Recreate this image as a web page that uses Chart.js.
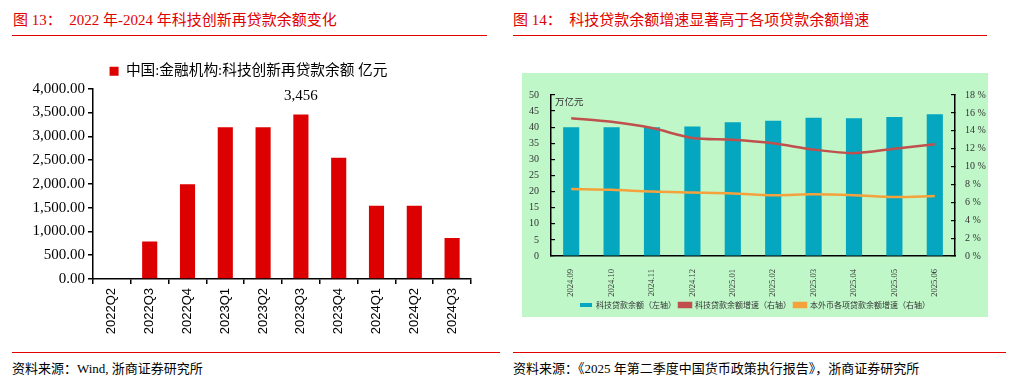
<!DOCTYPE html>
<html>
<head>
<meta charset="utf-8">
<script src="https://cdn.jsdelivr.net/npm/chart.js@4.4.1/dist/chart.umd.min.js"></script>
<style>
  body { margin:0; width:1018px; height:390px; background:#fff; position:relative; overflow:hidden;
         font-family:"Liberation Serif","Noto Sans CJK SC",serif; }
  .title { position:absolute; top:8px; color:#e00000; font-size:15px; white-space:pre; }
  .rule { position:absolute; height:1px; background:#e00000; }
  .src { position:absolute; top:358px; font-size:13px; color:#000; white-space:pre; }
  #box1 { position:absolute; left:0; top:40px; width:495px; height:305px; }
  #box2 { position:absolute; left:522px; top:73px; width:466px; height:244px; background:#bff7c8; }
</style>
</head>
<body>
<div class="title" style="left:13px">图 13：  2022 年-2024 年科技创新再贷款余额变化</div>
<div class="rule" style="left:12px;width:475px;top:35px"></div>
<div class="title" style="left:513px">图 14：  科技贷款余额增速显著高于各项贷款余额增速</div>
<div class="rule" style="left:513px;width:474px;top:35px"></div>

<div id="box1"><canvas id="js--chart1"></canvas></div>
<div id="box2"><canvas id="js--chart2"></canvas></div>

<div class="rule" style="left:12px;width:488px;top:352px"></div>
<div class="rule" style="left:513px;width:493px;top:352px"></div>
<div class="src" style="left:12px">资料来源：Wind, 浙商证券研究所</div>
<div class="src" style="left:513px">资料来源：《2025 年第二季度中国货币政策执行报告》，浙商证券研究所</div>

<script>
// chart 13: 科技创新再贷款余额 (亿元)
const quarters = ["2022Q2", "2022Q3", "2022Q4", "2023Q1", "2023Q2", "2023Q3", "2023Q4", "2024Q1", "2024Q2", "2024Q3"];
const relendBalance = [null, 790, 1990, 3190, 3190, 3456, 2550, 1540, 1540, 860];
const relendTicks = [0, 500, 1000, 1500, 2000, 2500, 3000, 3500, 4000];

// chart 14: 科技贷款
const months = ["2024.09", "2024.10", "2024.11", "2024.12", "2025.01", "2025.02", "2025.03", "2025.04", "2025.05", "2025.06"];
const techLoan = [40.0, 40.0, 40.0, 40.2, 41.5, 42.0, 42.9, 42.8, 43.2, 44.0];
const techGrowth = [15.4, 15.0, 14.3, 13.2, 13.0, 12.6, 11.9, 11.5, 12.0, 12.5];
const allGrowth = [7.5, 7.4, 7.2, 7.1, 7.0, 6.8, 6.9, 6.8, 6.6, 6.7];
const leftTicks = [0, 5, 10, 15, 20, 25, 30, 35, 40, 45, 50];
const rightTicks = [0, 2, 4, 6, 8, 10, 12, 14, 16, 18];

const serif = '"Liberation Serif", "Noto Sans CJK SC", serif';

// label above the highest bar
const peakLabel = {
  id: "peakLabel",
  afterDatasetsDraw(chart) {
    const meta = chart.getDatasetMeta(0);
    let idx = 0;
    relendBalance.forEach((v, i) => { if (v !== null && v > relendBalance[idx]) idx = i; });
    const bar = meta.data[idx];
    const ctx = chart.ctx;
    ctx.save();
    ctx.font = "15px " + serif;
    ctx.fillStyle = "#000";
    ctx.textAlign = "center";
    ctx.textBaseline = "bottom";
    ctx.fillText(relendBalance[idx].toLocaleString("en-US"), bar.x, bar.y - 11);
    ctx.restore();
  }
};

const chart1 = new Chart(document.getElementById("js--chart1"), {
  type: "bar",
  data: {
    labels: quarters,
    datasets: [{
      label: "中国:金融机构:科技创新再贷款余额 亿元",
      data: relendBalance,
      backgroundColor: "#dc0000",
      barPercentage: 0.8,
      categoryPercentage: 0.5
    }]
  },
  options: {
    responsive: true,
    maintainAspectRatio: false,
    animation: false,
    layout: { padding: { top: 12, right: 24, left: 26, bottom: 0 } },
    plugins: {
      legend: {
        position: "top",
        labels: { boxWidth: 9, boxHeight: 9, color: "#000", padding: 12, font: { family: serif, size: 14.7 } }
      },
      tooltip: { enabled: false }
    },
    scales: {
      x: {
        grid: { drawOnChartArea: false, tickLength: 5, color: "#000", lineWidth: 1.5 },
        border: { color: "#000", width: 1.5 },
        ticks: { minRotation: 90, maxRotation: 90, color: "#000", padding: 4,
                 font: { family: '"Liberation Sans", Arial, sans-serif', size: 13 } },
        afterFit(scale) { scale.height = 66; }
      },
      y: {
        min: relendTicks[0],
        max: relendTicks[relendTicks.length - 1],
        afterBuildTicks(scale) { scale.ticks = relendTicks.map(v => ({ value: v })); },
        grid: { drawOnChartArea: false, tickLength: 5, color: "#000", lineWidth: 1.5 },
        border: { color: "#000", width: 1.5 },
        ticks: {
          color: "#000", padding: 3, font: { family: serif, size: 15 },
          callback: v => v.toLocaleString("en-US", { minimumFractionDigits: 2, maximumFractionDigits: 2 })
        },
        afterFit(scale) { scale.width = 67; }
      }
    }
  },
  plugins: [peakLabel]
});

// unit text in the top-left corner of the plot
const unitText = {
  id: "unitText",
  afterDraw(chart) {
    const ctx = chart.ctx;
    ctx.save();
    ctx.font = '9.5px "Noto Sans CJK SC", sans-serif';
    ctx.fillStyle = "#333";
    ctx.textBaseline = "top";
    ctx.fillText("万亿元", chart.chartArea.left + 4, chart.chartArea.top + 2);
    ctx.restore();
  }
};

const chart2 = new Chart(document.getElementById("js--chart2"), {
  type: "bar",
  data: {
    labels: months,
    datasets: [
      {
        type: "bar",
        label: "科技贷款余额（左轴）",
        data: techLoan,
        backgroundColor: "#05a6bf",
        barPercentage: 0.8,
        categoryPercentage: 0.5,
        yAxisID: "y",
        order: 2
      },
      {
        type: "line",
        label: "科技贷款余额增速（右轴）",
        data: techGrowth,
        borderColor: "#c0504d",
        backgroundColor: "#c0504d",
        borderWidth: 2.5,
        pointRadius: 0,
        tension: 0.3,
        yAxisID: "y1",
        order: 1
      },
      {
        type: "line",
        label: "本外币各项贷款余额增速（右轴）",
        data: allGrowth,
        borderColor: "#f5a23c",
        backgroundColor: "#f5a23c",
        borderWidth: 2.5,
        pointRadius: 0,
        tension: 0.3,
        yAxisID: "y1",
        order: 0
      }
    ]
  },
  options: {
    responsive: true,
    maintainAspectRatio: false,
    animation: false,
    layout: { padding: { top: 11, right: 0, left: 0, bottom: -2 } },
    plugins: {
      legend: {
        position: "bottom",
        labels: { boxWidth: 12, boxHeight: 4, color: "#333", padding: 3,
                  font: { family: '"Noto Sans CJK SC", sans-serif', size: 8 },
                  sort: (a, b) => a.datasetIndex - b.datasetIndex }
      },
      tooltip: { enabled: false }
    },
    scales: {
      x: {
        grid: { display: false },
        border: { color: "#000", width: 1.5 },
        ticks: { minRotation: 90, maxRotation: 90, color: "#333", padding: 5,
                 font: { family: serif, size: 8.5 } },
        afterFit(scale) { scale.height = 42; }
      },
      y: {
        position: "left",
        min: leftTicks[0],
        max: leftTicks[leftTicks.length - 1],
        afterBuildTicks(scale) { scale.ticks = leftTicks.map(v => ({ value: v })); },
        grid: { drawOnChartArea: false, tickLength: -4, color: "#000", lineWidth: 1.2 },
        border: { color: "#000", width: 1.5 },
        ticks: { color: "#333", padding: 16, font: { family: serif, size: 10 } },
        afterFit(scale) { scale.width = 29; }
      },
      y1: {
        position: "right",
        min: rightTicks[0],
        max: rightTicks[rightTicks.length - 1],
        afterBuildTicks(scale) { scale.ticks = rightTicks.map(v => ({ value: v })); },
        grid: { drawOnChartArea: false, tickLength: -4, color: "#000", lineWidth: 1.2 },
        border: { color: "#000", width: 1.5 },
        ticks: { color: "#333", padding: 14, font: { family: serif, size: 10 }, callback: v => v + " %" },
        afterFit(scale) { scale.width = 33; }
      }
    }
  },
  plugins: [unitText]
});
</script>
</body>
</html>
